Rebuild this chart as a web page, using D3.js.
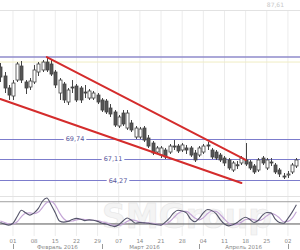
<!DOCTYPE html>
<html><head><meta charset="utf-8">
<script src="https://cdn.jsdelivr.net/npm/d3@7"></script>
<style>html,body{margin:0;padding:0;background:#fff}svg{display:block}</style>
</head><body><svg id="c" width="300" height="250"></svg>
<script>
const dates = ["2016-01-27","2016-01-28","2016-01-29",
"2016-02-01","2016-02-02","2016-02-03","2016-02-04","2016-02-05",
"2016-02-08","2016-02-09","2016-02-10","2016-02-11","2016-02-12",
"2016-02-15","2016-02-16","2016-02-17","2016-02-18","2016-02-19",
"2016-02-22","2016-02-23","2016-02-24","2016-02-25","2016-02-26",
"2016-02-29","2016-03-01","2016-03-02","2016-03-03","2016-03-04",
"2016-03-07","2016-03-08","2016-03-09","2016-03-10","2016-03-11",
"2016-03-14","2016-03-15","2016-03-16","2016-03-17","2016-03-18",
"2016-03-21","2016-03-22","2016-03-23","2016-03-24","2016-03-25",
"2016-03-28","2016-03-29","2016-03-30","2016-03-31","2016-04-01",
"2016-04-04","2016-04-05","2016-04-06","2016-04-07","2016-04-08",
"2016-04-11","2016-04-12","2016-04-13","2016-04-14","2016-04-15",
"2016-04-18","2016-04-19","2016-04-20","2016-04-21","2016-04-22",
"2016-04-25","2016-04-26","2016-04-27","2016-04-28","2016-04-29",
"2016-05-02","2016-05-03","2016-05-04"];
const openP  = [79.34,78.14,76.54,75.47,77.60,79.47,77.34,76.67,77.34,78.67,78.94,80.00,79.74,78.67,75.87,77.07,74.67,76.67,76.80,76.54,76.00,75.20,75.20,75.60,74.94,74.80,73.87,73.34,71.47,73.20,71.20,71.87,70.00,70.00,71.20,69.87,69.20,68.00,67.60,68.27,68.00,68.80,68.80,68.27,68.54,68.54,67.87,67.60,68.00,68.94,68.27,68.00,67.60,67.20,66.94,65.60,66.30,66.54,66.94,66.67,66.14,65.60,67.20,65.87,66.67,66.27,65.60,64.80,64.94,65.34,66.14];
const highP  = [79.87,78.67,76.94,77.60,80.00,80.14,77.60,77.87,79.60,80.00,80.27,80.67,80.27,78.94,77.87,77.34,76.54,77.60,77.07,76.80,76.94,76.40,76.14,75.87,75.20,75.07,74.40,73.60,72.94,73.60,73.60,72.27,71.47,71.34,71.47,70.27,69.47,68.80,68.80,68.54,69.07,69.60,69.07,69.20,68.94,68.80,68.27,68.80,69.07,69.34,68.54,68.27,67.87,67.47,67.20,66.80,66.80,67.47,69.20,66.94,66.40,67.20,67.47,67.20,67.20,66.54,65.87,65.20,65.47,66.54,67.20];
const lowP   = [77.34,75.87,74.94,74.94,77.34,77.20,75.74,76.27,77.07,78.14,78.67,78.67,78.14,76.54,74.94,74.54,74.27,75.87,74.67,74.54,75.20,74.94,74.94,74.40,73.34,73.07,72.67,71.34,71.20,71.47,70.94,70.67,69.74,69.74,69.34,68.54,67.60,67.74,67.20,67.07,67.74,68.27,67.87,68.00,67.74,67.34,66.67,67.34,67.74,68.27,67.07,66.94,66.67,66.14,65.60,65.34,65.74,66.27,66.14,65.60,65.07,65.34,66.27,65.60,66.14,65.07,64.67,64.40,64.54,65.07,65.87];
const closeP = [78.00,76.54,75.60,77.20,79.74,77.60,76.54,77.47,78.94,79.74,80.00,78.94,78.40,76.94,77.60,74.94,76.27,76.54,74.94,74.94,75.87,76.14,75.87,74.67,73.60,73.34,73.07,71.60,72.67,71.74,73.20,70.94,71.20,71.07,69.60,68.80,67.87,68.54,68.54,67.34,68.80,68.67,68.14,68.94,68.27,67.60,66.94,68.54,68.80,68.80,67.34,67.20,66.94,66.54,65.87,66.54,66.24,67.20,66.40,65.87,65.34,66.94,66.54,66.94,66.54,65.34,65.07,64.76,65.07,66.27,66.94];
const stochK = [24,20,17,22,40,57,50,44,50,62,82,90,72,50,28,25,27,32,35,33,29,31,30,27,22,20,16,13,18,28,36,30,22,24,23,22,20,18,17,25,36,50,57,55,50,33,26,35,50,59,56,48,32,20,15,18,24,33,38,32,24,30,44,51,50,33,24,22,35,52,72];
const stochD = [28,24,20,20,26,40,49,50,48,52,65,78,81,71,50,34,27,28,31,33,32,31,30,29,26,23,19,16,16,20,27,31,29,25,23,23,22,20,18,20,26,37,48,54,54,46,36,31,37,48,55,54,45,33,22,18,19,25,32,34,31,29,33,42,48,45,36,26,27,36,53];
const levels = [69.74, 67.11, 64.27];
const levelLabels = ["69,74", "67,11", "64,27"];
const resistance = 80.67;
const resistance2 = 80.0;
const trendUpper = [["2016-02-11", 80.67], ["2016-04-18", 66.94]];
const trendLower = [["2016-01-27", 75.07], ["2016-04-15", 63.87]];
const tickDates = ["2016-02-01","2016-02-08","2016-02-15","2016-02-22","2016-02-29","2016-03-07","2016-03-14","2016-03-21","2016-03-28","2016-04-04","2016-04-11","2016-04-18","2016-04-25","2016-05-02"];
const tickLabels = ["01","08","15","22","29","07","14","21","28","04","11","18","25","02"];
const monthLabels = ["Февраль 2016", "Март 2016", "Апрель 2016"];
const monthStarts = ["2016-02-01", "2016-03-01", "2016-04-01", "2016-05-02"];
const topPriceLabel = "87,61";
const stochLevels = [80, 20];

const svg = d3.select("#c");
const x = d3.scalePoint().domain(dates).range([0.3, 0.3 + 4.23 * (dates.length - 1)]);
const y = d3.scaleLinear().domain([62.27, 86.94]).range([195, 10]);
const ys = d3.scaleLinear().domain([0, 100]).range([231.4, 194.3]);

// grid
svg.append("g").selectAll("line").data(tickDates).join("line")
  .attr("x1", d => x(d)).attr("x2", d => x(d)).attr("y1", 10).attr("y2", 236)
  .attr("stroke", "#ececec").attr("stroke-width", 1);
svg.append("line").attr("x1", 0).attr("x2", 300).attr("y1", y(86.94) + 0.5).attr("y2", y(86.94) + 0.5).attr("stroke", "#e2e2e2");
svg.append("line").attr("x1", 0).attr("x2", 300).attr("y1", 196.5).attr("y2", 196.5).attr("stroke", "#e2e2e2");

// watermark
svg.append("text").attr("x", 102).attr("y", 228).attr("font-family", "DejaVu Sans, sans-serif").attr("font-weight", "bold")
  .attr("font-size", 34).attr("fill", "#f4f4f4").attr("stroke", "#e6e6e6").attr("stroke-width", 0.6)
  .attr("textLength", 170).attr("lengthAdjust", "spacingAndGlyphs").text("SMGroup");

// resistance lines
svg.append("line").attr("x1", 0).attr("x2", 300).attr("y1", y(resistance)).attr("y2", y(resistance))
  .attr("stroke", "#8f8bcb").attr("stroke-width", 1.6);
svg.append("line").attr("x1", 0).attr("x2", 300).attr("y1", y(resistance2)).attr("y2", y(resistance2))
  .attr("stroke", "#f1edc4").attr("stroke-width", 1);

// levels
const lvX = [75, 113, 118];
levels.forEach((v, i) => {
  svg.append("line").attr("x1", 0).attr("x2", 300).attr("y1", Math.round(y(v)) + 0.5).attr("y2", Math.round(y(v)) + 0.5)
    .attr("stroke", "#7c7ccc").attr("stroke-width", 1);
});

// candles
const cw = 3;
const g = svg.append("g");
dates.forEach((d, i) => {
  const cx = Math.round(x(d)) + 0.5;
  const up = closeP[i] >= openP[i];
  g.append("line").attr("x1", cx).attr("x2", cx).attr("y1", y(highP[i])).attr("y2", y(lowP[i]))
    .attr("stroke", "#444").attr("stroke-width", 1);
  const top = y(Math.max(openP[i], closeP[i])), bot = y(Math.min(openP[i], closeP[i]));
  g.append("rect").attr("x", cx - cw / 2).attr("y", top).attr("width", cw).attr("height", Math.max(1, bot - top))
    .attr("fill", up ? "#ffffff" : "#555").attr("stroke", "#444").attr("stroke-width", 0.8);
});

// level labels (on top of lines)
levels.forEach((v, i) => {
  const t = svg.append("text").attr("x", lvX[i]).attr("y", y(v) + 2.5).attr("text-anchor", "middle")
    .attr("font-family", "DejaVu Sans, sans-serif").attr("font-size", 6.5).attr("fill", "#55559a").text(levelLabels[i]);
  const bb = t.node().getBBox();
  svg.insert("rect", () => t.node()).attr("x", bb.x - 2).attr("y", bb.y).attr("width", bb.width + 4).attr("height", bb.height).attr("fill", "#fff");
});

// trend lines
[trendUpper, trendLower].forEach(tl => {
  svg.append("line").attr("x1", x(tl[0][0])).attr("y1", y(tl[0][1])).attr("x2", x(tl[1][0])).attr("y2", y(tl[1][1]))
    .attr("stroke", "#d42c2c").attr("stroke-width", 2).attr("stroke-linecap", "round");
});

// top label
svg.append("text").attr("x", 284).attr("y", 7).attr("text-anchor", "end").attr("font-family", "DejaVu Sans, sans-serif")
  .attr("font-size", 6).attr("fill", "#c8c8c8").text(topPriceLabel);

// stoch levels
stochLevels.forEach((v, i) => {
  svg.append("line").attr("x1", 0).attr("x2", 300).attr("y1", ys(v)).attr("y2", ys(v))
    .attr("stroke", i === 0 ? "#a0a0a0" : "#555").attr("stroke-width", 1);
});
const line = arr => d3.line().x((d, i) => x(dates[i])).y(d => ys(d)).curve(d3.curveMonotoneX)(arr);
svg.append("path").attr("d", line(stochD)).attr("fill", "none").attr("stroke", "#c4a6d6").attr("stroke-width", 1.2);
svg.append("path").attr("d", line(stochK)).attr("fill", "none").attr("stroke", "#55556a").attr("stroke-width", 1.1);

// axis
const xa = svg.append("g").attr("transform", "translate(0,236)");
tickDates.forEach((d, i) => {
  xa.append("text").attr("x", x(d)).attr("y", 6.5).attr("text-anchor", "middle").attr("font-family", "DejaVu Sans, sans-serif")
    .attr("font-size", 5.5).attr("fill", "#888").text(tickLabels[i]);
});
monthStarts.forEach(d => {
  xa.append("line").attr("x1", Math.round(x(d)) + 0.5).attr("x2", Math.round(x(d)) + 0.5).attr("y1", 8).attr("y2", 13).attr("stroke", "#999");
});
monthLabels.forEach((m, i) => {
  const cx = (x(monthStarts[i]) + x(monthStarts[i + 1])) / 2 - (i === 1 ? 6 : 0);
  xa.append("text").attr("x", cx).attr("y", 12.8).attr("text-anchor", "middle").attr("font-family", "DejaVu Sans, sans-serif")
    .attr("font-size", 5.5).attr("fill", "#888").text(m);
});
</script></body></html>
